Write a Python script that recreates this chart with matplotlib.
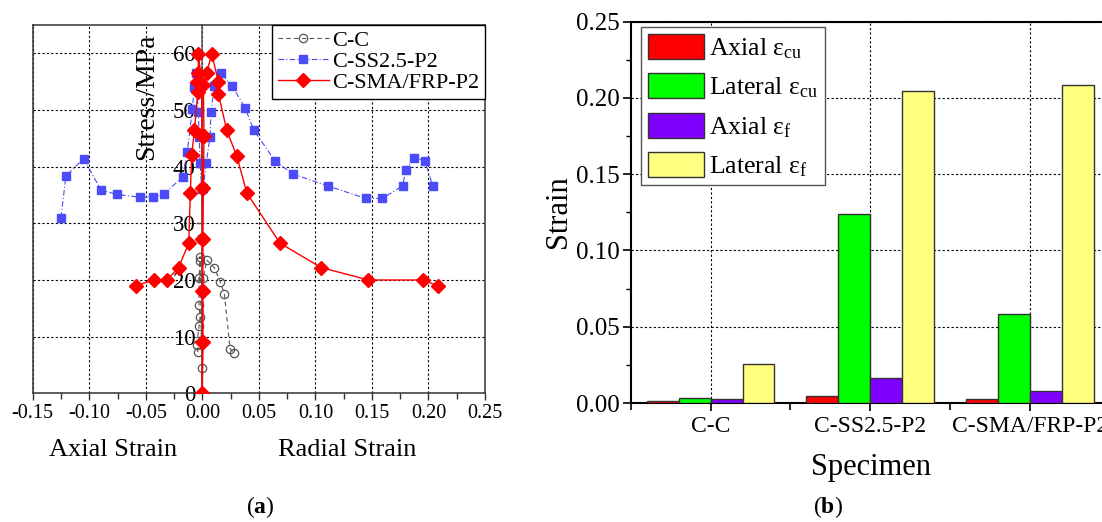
import numpy as np
import matplotlib
matplotlib.use("Agg")
import matplotlib.pyplot as plt
from matplotlib.ticker import MultipleLocator, FormatStrFormatter

plt.rcParams['font.family'] = ['Liberation Serif', 'DejaVu Serif']
plt.rcParams['mathtext.fontset'] = 'custom'
plt.rcParams['mathtext.rm'] = 'Liberation Serif'
plt.rcParams['mathtext.it'] = 'Liberation Serif:italic'
plt.rcParams['mathtext.bf'] = 'Liberation Serif:bold'
plt.rcParams['axes.unicode_minus'] = False

# ---- (a) stress-strain curves: axial strain plotted negative, radial positive ----
cc_strain = [-0.004, -0.005, -0.0029, -0.002, -0.0029, -0.0029, -0.002, -0.002,
             -0.0005, 0.0, 0.0008, 0.0039, 0.0106, 0.0157, 0.0195, 0.0245, 0.0283]
cc_stress = [7.3, 8.5, 11.8, 13.5, 15.6, 20.3, 23.3, 24.1,
             4.4, 0.0, 20.3, 23.5, 22.2, 19.7, 17.6, 7.9, 7.1]

ss_strain = [-0.125, -0.1206, -0.105, -0.0896, -0.0758, -0.0551, -0.0436, -0.0342,
             -0.0174, -0.0133, -0.0088, -0.0071, -0.0059, -0.0035, -0.0027, -0.002,
             -0.0005, 0.0,
             0.0008, 0.0035, 0.0068, 0.0077, 0.0106, 0.0162, 0.0265, 0.0377, 0.0457,
             0.0643, 0.0802, 0.111, 0.1444, 0.1592, 0.1771, 0.180, 0.1872, 0.197, 0.2037]
ss_stress = [31.0, 38.4, 41.4, 35.9, 35.1, 34.6, 34.6, 35.1,
             38.2, 42.5, 50.2, 54.1, 56.5, 49.6, 45.3, 40.7,
             36.0, 27.2,
             36.2, 40.7, 45.3, 49.7, 54.2, 56.5, 54.2, 50.4, 46.4,
             41.0, 38.7, 36.6, 34.4, 34.4, 36.6, 39.4, 41.6, 41.0, 36.6]

sma_strain = [-0.059, -0.043, -0.031, -0.021, -0.012, -0.0106, -0.0094, -0.007,
              -0.004, -0.005, -0.0035, -0.0035, -0.0005, -0.0005, 0.0, 0.0, 0.0,
              0.0, 0.0,
              0.0005, 0.0005, 0.0005, 0.0009, 0.0015, 0.0009, 0.0039, 0.0083,
              0.0142, 0.0142, 0.0216, 0.0304, 0.0395, 0.0687, 0.105, 0.1468,
              0.1948, 0.2081]
sma_stress = [19.0, 20.0, 20.0, 22.2, 26.5, 35.3, 42.0, 46.4,
              53.2, 55.0, 56.6, 59.9, 54.4, 45.4, 36.3, 27.2, 18.1,
              9.0, 0.0,
              9.0, 18.1, 27.2, 36.3, 45.4, 54.4, 56.6, 59.9,
              55.0, 52.9, 46.4, 41.9, 35.3, 26.5, 22.2, 20.0,
              20.0, 19.0]

# ---- (b) strain at peak / failure ----
specimens = ['C-C', 'C-SS2.5-P2', 'C-SMA/FRP-P2']
axial_cu = [0.0011, 0.0048, 0.0028]
lateral_cu = [0.0035, 0.1236, 0.0584]
axial_f = [0.0026, 0.0164, 0.0079]
lateral_f = [0.0254, 0.2043, 0.2082]

W, H = 1102, 522
fig = plt.figure(figsize=(W / 100, H / 100), dpi=100)

def fx(px):
    return px / W

def fy(py):
    return 1 - py / H

# ---------------- panel (a) ----------------
ax1 = fig.add_axes([fx(32.7), fy(393.3), (485 - 32.7) / W, (393.3 - 25) / H])
ax1.set_xlim(-0.15, 0.25)
ax1.set_ylim(0, 65)
frame_c = '#333333'
for s in ['top', 'right', 'bottom']:
    ax1.spines[s].set_color(frame_c)
    ax1.spines[s].set_linewidth(1.1)
ax1.spines['left'].set_position(('data', 0))
ax1.spines['left'].set_color('#555555')
ax1.spines['left'].set_linewidth(1.1)
ax1.plot([0, 0], [0, 1], transform=ax1.transAxes, color=frame_c, lw=1.1,
         clip_on=False, zorder=5)

ax1.set_xticks(np.arange(-0.15, 0.2501, 0.05))
ax1.xaxis.set_major_formatter(FormatStrFormatter('%.2f'))
ax1.xaxis.set_minor_locator(MultipleLocator(0.025))
ax1.set_yticks(np.arange(0, 61, 10))
ax1.tick_params(axis='x', which='major', direction='out', length=5, width=1,
                labelsize=14.5, pad=3, color=frame_c)
ax1.tick_params(axis='x', which='minor', direction='out', length=4, width=1,
                color=frame_c)
ax1.tick_params(axis='y', which='major', direction='out', length=4, width=1,
                labelsize=16.5, pad=1, color='#555555')
ax1.grid(True, which='major', linestyle=(0, (2, 2)), color='black', lw=0.8)
ax1.set_axisbelow(True)

ax1.plot(cc_strain, cc_stress, linestyle=(0, (4, 3)), color='#555555', lw=0.8,
         marker='o', ms=6, mfc='none', mec='#555555', mew=0.9, label='C-C', zorder=3)
ax1.plot(ss_strain, ss_stress, linestyle=(0, (5, 2, 1, 2)), color='#4B4BF7', lw=0.8,
         marker='s', ms=5.5, mfc='#4B4BF7', mec='#4B4BF7', label='C-SS2.5-P2', zorder=4)
ax1.plot(sma_strain, sma_stress, linestyle='-', color='red', lw=1.0,
         marker='D', ms=7.2, mfc='red', mec='red', label='C-SMA/FRP-P2', zorder=5)

leg1 = ax1.legend(loc='upper right', bbox_to_anchor=(1, 1), borderaxespad=0,
                  fontsize=16, frameon=True, fancybox=False, framealpha=1,
                  edgecolor='black', handlelength=2.3, handletextpad=0.15,
                  labelspacing=0.02, borderpad=0.25)
leg1.get_frame().set_linewidth(1.0)

fig.text(fx(147), fy(97), 'Stress/MPa', rotation=90, ha='center', va='center',
         fontsize=20)
fig.text(fx(113), fy(450), 'Axial Strain', ha='center', va='center', fontsize=19)
fig.text(fx(347), fy(450), 'Radial Strain', ha='center', va='center', fontsize=19)
fig.text(fx(260), fy(507), r'($\mathbf{a}$)', ha='center', va='center', fontsize=17)

# ---------------- panel (b) ----------------
ax2 = fig.add_axes([fx(630.7), fy(403), (1110 - 630.7) / W, (403 - 21.7) / H])
x = np.arange(len(specimens))
bw = 0.2
series = [
    (axial_cu, '#FF0000', r'Axial ε$_{\mathrm{cu}}$'),
    (lateral_cu, '#00FF00', r'Lateral ε$_{\mathrm{cu}}$'),
    (axial_f, '#8000FF', r'Axial ε$_{\mathrm{f}}$'),
    (lateral_f, '#FFFF80', r'Lateral ε$_{\mathrm{f}}$'),
]
for i, (vals, col, lab) in enumerate(series):
    ax2.bar(x + (i - 1.5) * bw, vals, width=bw, color=col, edgecolor='#333333',
            linewidth=1.0, label=lab, zorder=3)

ax2.set_xlim(-0.5, 2.5)
ax2.set_ylim(0, 0.25)
ax2.set_xticks(x)
ax2.set_xticklabels(specimens)
ax2.set_xticks([-0.5, 0.5, 1.5, 2.5], minor=True)
ax2.set_yticks(np.arange(0, 0.2501, 0.05))
ax2.yaxis.set_major_formatter(FormatStrFormatter('%.2f'))
ax2.yaxis.set_minor_locator(MultipleLocator(0.025))
for s in ax2.spines.values():
    s.set_color('black')
    s.set_linewidth(1.5)
ax2.tick_params(axis='x', which='major', direction='out', length=6, width=1.2,
                labelsize=17, pad=3)
ax2.tick_params(axis='x', which='minor', direction='out', length=5, width=1.2)
ax2.tick_params(axis='y', which='major', direction='out', length=6, width=1.2,
                labelsize=18, pad=2)
ax2.tick_params(axis='y', which='minor', direction='out', length=3.5, width=1.0)
ax2.grid(True, which='major', linestyle=(0, (2, 2)), color='black', lw=0.8)
ax2.set_axisbelow(True)

leg2 = ax2.legend(loc='upper left', bbox_to_anchor=(0.022, 0.985), borderaxespad=0,
                  fontsize=18.5, frameon=True, fancybox=False, framealpha=1,
                  edgecolor='#555555', handlelength=2.2, handleheight=1.1,
                  handletextpad=0.2, labelspacing=0.5, borderpad=0.25)
leg2.get_frame().set_linewidth(1.0)

fig.text(fx(559), fy(212), 'Strain', rotation=90, ha='center', va='center',
         fontsize=22)
fig.text(fx(871), fy(467), 'Specimen', ha='center', va='center', fontsize=22)
fig.text(fx(828), fy(507), r'($\mathbf{b}$)', ha='center', va='center', fontsize=17)

fig.savefig('out.png', dpi=100)
